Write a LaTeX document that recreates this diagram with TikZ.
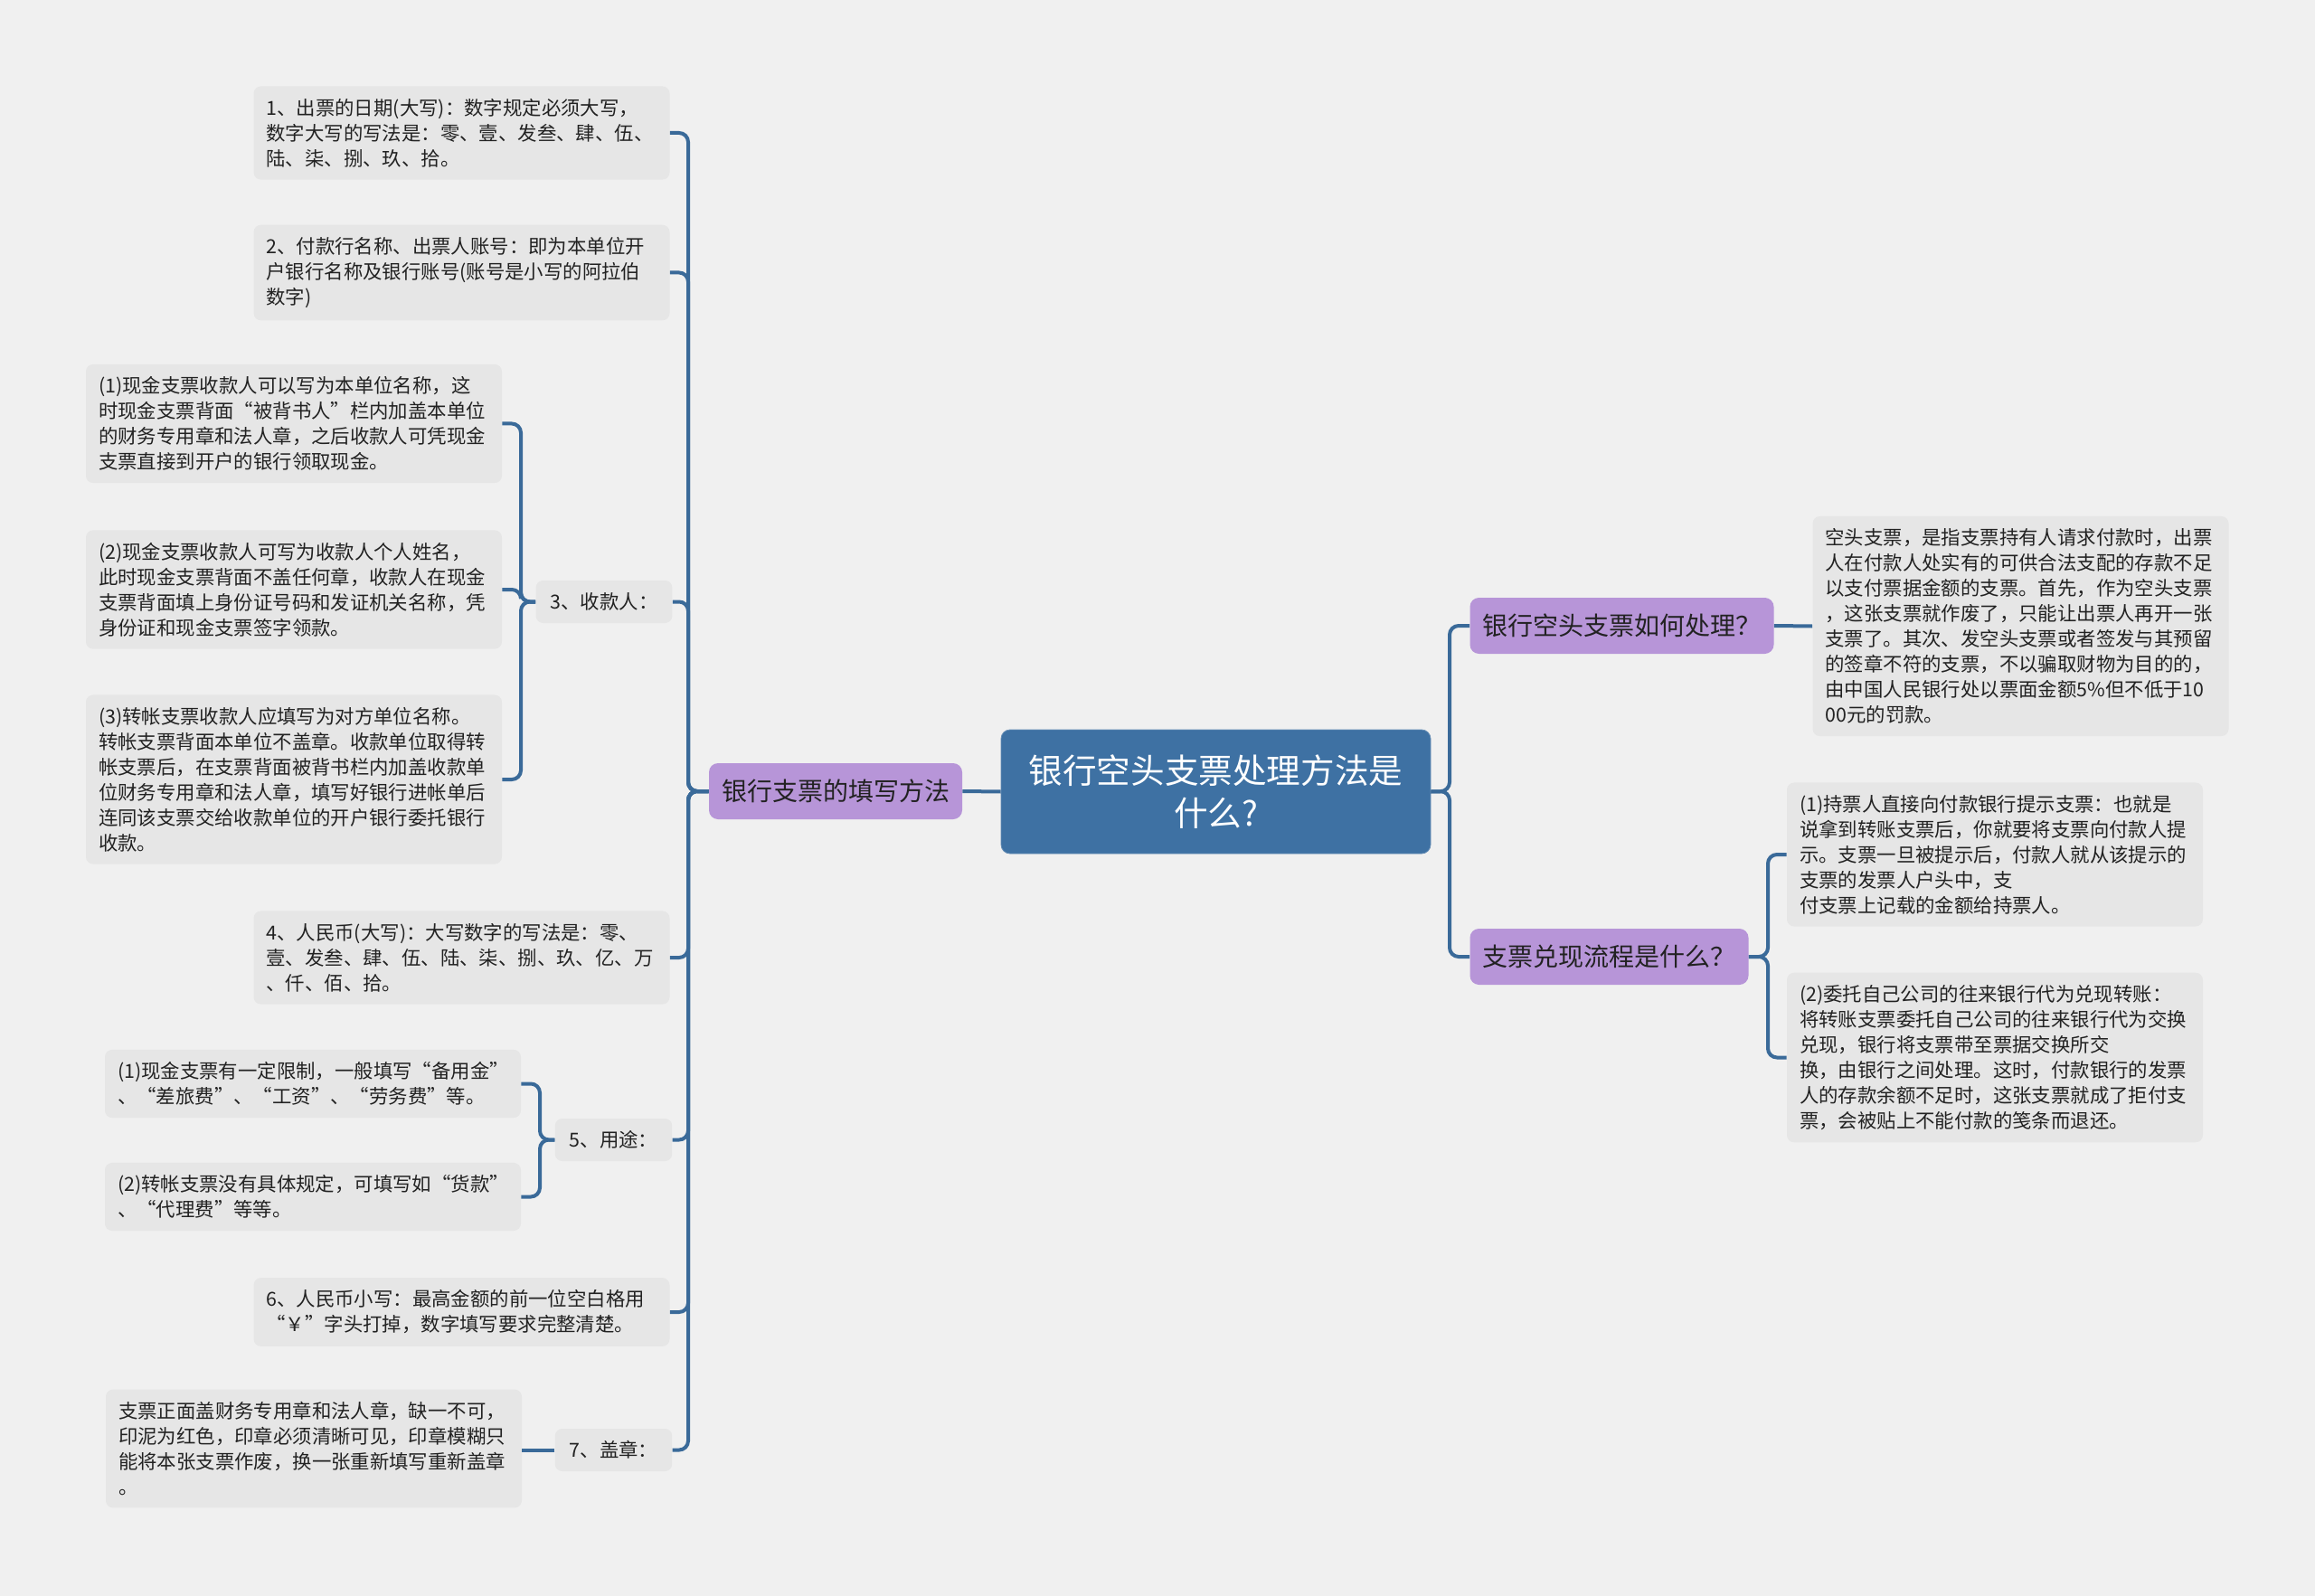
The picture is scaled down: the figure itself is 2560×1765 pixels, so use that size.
\documentclass[tikz,border=0pt]{standalone}
\usepackage{fontspec}
\setmainfont{Noto Sans CJK SC}
\usetikzlibrary{positioning}

\definecolor{bgcol}{HTML}{F0F0F0}
\definecolor{leafcol}{HTML}{E6E6E6}
\definecolor{topiccol}{HTML}{B795D8}
\definecolor{rootcol}{HTML}{3E71A3}
\definecolor{linkcol}{HTML}{3A6A99}
\definecolor{txtcol}{HTML}{222222}

\begin{document}
\begin{tikzpicture}[x=0.5pt, y=-0.5pt,
  leaf/.style={fill=leafcol, rounded corners=4pt, text width=216pt, align=left, inner xsep=7pt, inner ysep=6.8pt, text=txtcol, font=\fontsize{10.7}{14}\selectfont},
  tag/.style={fill=leafcol, rounded corners=4pt, inner xsep=8pt, minimum height=23.5pt, text=txtcol, font=\fontsize{10.7}{14}\selectfont},
  topic/.style={fill=topiccol, rounded corners=5pt, inner xsep=7pt, minimum height=31pt, text=txtcol, font=\fontsize{14}{17}\selectfont},
  central/.style={fill=rootcol, draw=rootcol!80!white, rounded corners=5pt, align=center, minimum width=237.5pt, minimum height=68.5pt, text=white, font=\fontsize{18.8}{23.5}\selectfont},
  link/.style={draw=linkcol, line width=2pt, rounded corners=5pt}
]
\useasboundingbox[fill=bgcol] (0,0) rectangle (2560,1765);

% centre
\node[central] (root) at (1344.5,875.5) {银行空头支票处理方法是\\什么?};

% left side
\node[topic] (fill) at (924,875) {银行支票的填写方法};

\node[leaf] (date) at (510.5,147) {1、出票的日期(大写)：数字规定必须大写，\\数字大写的写法是：零、壹、发叁、肆、伍、\\陆、柒、捌、玖、拾。};
\node[leaf] (bank) at (510.5,301.5) {2、付款行名称、出票人账号：即为本单位开\\户银行名称及银行账号(账号是小写的阿拉伯\\数字)};
\node[tag] (payee) at (668,665.5) {3、收款人：};
\node[leaf] (payee1) at (325,468.5) {(1)现金支票收款人可以写为本单位名称，这\\时现金支票背面“被背书人”栏内加盖本单位\\的财务专用章和法人章，之后收款人可凭现金\\支票直接到开户的银行领取现金。};
\node[leaf] (payee2) at (325,652) {(2)现金支票收款人可写为收款人个人姓名，\\此时现金支票背面不盖任何章，收款人在现金\\支票背面填上身份证号码和发证机关名称，凭\\身份证和现金支票签字领款。};
\node[leaf] (payee3) at (325,862) {(3)转帐支票收款人应填写为对方单位名称。\\转帐支票背面本单位不盖章。收款单位取得转\\帐支票后，在支票背面被背书栏内加盖收款单\\位财务专用章和法人章，填写好银行进帐单后\\连同该支票交给收款单位的开户银行委托银行\\收款。};
\node[leaf] (amount) at (510.5,1059) {4、人民币(大写)：大写数字的写法是：零、\\壹、发叁、肆、伍、陆、柒、捌、玖、亿、万\\、仟、佰、拾。};
\node[tag] (usage) at (678.5,1260.5) {5、用途：};
\node[leaf] (usage1) at (346,1198.5) {(1)现金支票有一定限制，一般填写“备用金”\\、“差旅费”、“工资”、“劳务费”等。};
\node[leaf] (usage2) at (346,1323.5) {(2)转帐支票没有具体规定，可填写如“货款”\\、“代理费”等等。};
\node[leaf] (small) at (510.5,1451) {6、人民币小写：最高金额的前一位空白格用\\“￥”字头打掉，数字填写要求完整清楚。};
\node[tag] (seal) at (678.5,1603.5) {7、盖章：};
\node[leaf] (seal1) at (347,1602) {支票正面盖财务专用章和法人章，缺一不可，\\印泥为红色，印章必须清晰可见，印章模糊只\\能将本张支票作废，换一张重新填写重新盖章\\。};

% right side
\node[topic] (bounce) at (1793.5,692) {银行空头支票如何处理？};
\node[leaf] (bounce1) at (2234.5,692.5) {空头支票，是指支票持有人请求付款时，出票\\人在付款人处实有的可供合法支配的存款不足\\以支付票据金额的支票。首先，作为空头支票\\，这张支票就作废了，只能让出票人再开一张\\支票了。其次、发空头支票或者签发与其预留\\的签章不符的支票，不以骗取财物为目的的，\\由中国人民银行处以票面金额5\%但不低于10\\00元的罚款。};
\node[topic] (cash) at (1779.5,1058) {支票兑现流程是什么？};
\node[leaf] (cash1) at (2206,945) {(1)持票人直接向付款银行提示支票：也就是\\说拿到转账支票后，你就要将支票向付款人提\\示。支票一旦被提示后，付款人就从该提示的\\支票的发票人户头中，支\\付支票上记载的金额给持票人。};
\node[leaf] (cash2) at (2206,1169.5) {(2)委托自己公司的往来银行代为兑现转账：\\将转账支票委托自己公司的往来银行代为交换\\兑现，银行将支票带至票据交换所交\\换，由银行之间处理。这时，付款银行的发票\\人的存款余额不足时，这张支票就成了拒付支\\票，会被贴上不能付款的笺条而退还。};

% trunks
\coordinate (ltrunk) at (761,875);
\coordinate (rtrunk) at (1603,875);

% connectors
\draw[link] (root.west) -- (fill.east);
\foreach \leafname in {date,bank,payee,amount,usage,small,seal}
  \draw[link] (fill.west) -- (ltrunk) |- (\leafname.east);
\foreach \leafname in {payee1,payee2,payee3}
  \draw[link] (payee.west) -- (576,665.5) |- (\leafname.east);
\foreach \leafname in {usage1,usage2}
  \draw[link] (usage.west) -- (597,1260.5) |- (\leafname.east);
\draw[link] (seal.west) -- (seal1.east |- seal.west);
\draw[link] (root.east) -- (rtrunk) |- (bounce.west);
\draw[link] (root.east) -- (rtrunk) |- (cash.west);
\draw[link] (bounce.east) -- (bounce1.west);
\foreach \leafname in {cash1,cash2}
  \draw[link] (cash.east) -- (1955,1058) |- (\leafname.west);
\end{tikzpicture}
\end{document}
